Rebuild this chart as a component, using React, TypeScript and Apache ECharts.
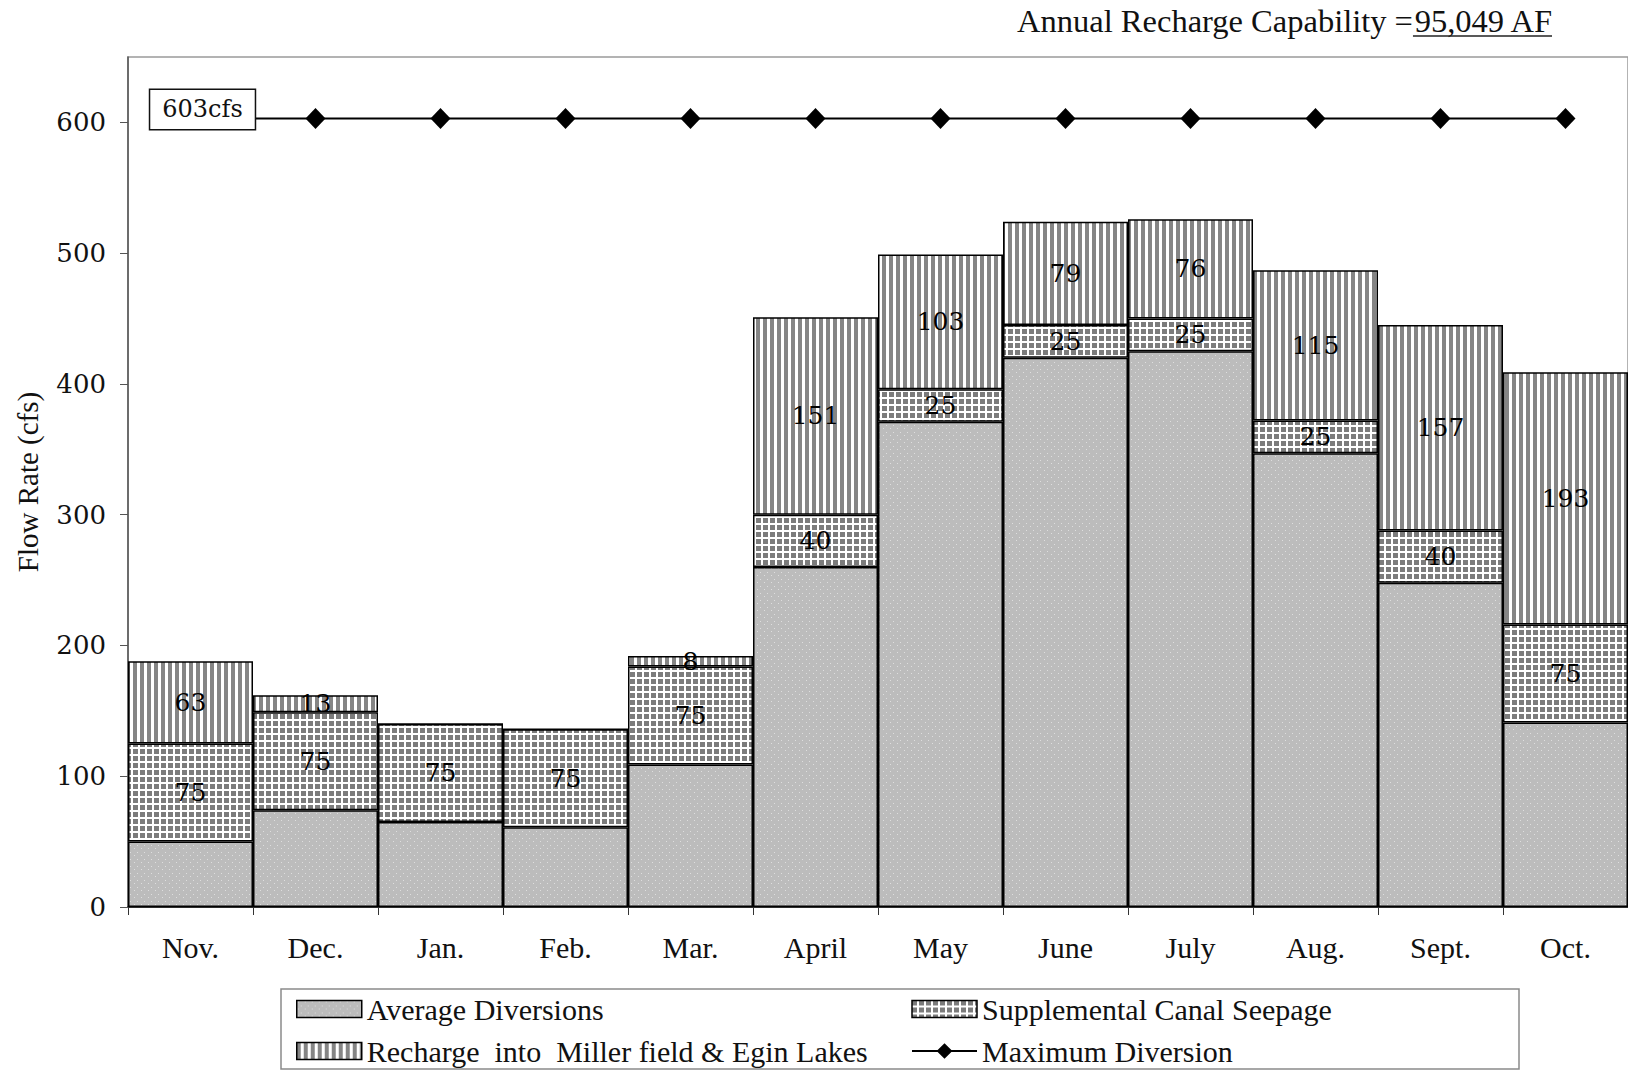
import React, { useEffect, useRef } from "react";
import * as echarts from "echarts";

const months = ["Nov.", "Dec.", "Jan.", "Feb.", "Mar.", "April", "May", "June", "July", "Aug.", "Sept.", "Oct."];
const averageDiversions = [50, 74, 65, 61, 109, 260, 371, 420, 425, 347, 248, 141];
const supplementalSeepage = [75, 75, 75, 75, 75, 40, 25, 25, 25, 25, 40, 75];
const rechargeMiller = [63, 13, 0, 0, 8, 151, 103, 79, 76, 115, 157, 193];
const maximumDiversion = [603, 603, 603, 603, 603, 603, 603, 603, 603, 603, 603, 603];
const yTicks = { min: 0, max: 650, interval: 100 };
const seriesNames = [
  "Average Diversions",
  "Supplemental Canal Seepage",
  "Recharge  into  Miller field & Egin Lakes",
  "Maximum Diversion",
];
const maxLabel = "603cfs";
const titleLeft = "Annual Recharge Capability =";
const titleRight = "95,049 AF";

function makePattern(kind: string) {
  const c = document.createElement("canvas");
  const s = 7;
  c.width = s;
  c.height = s;
  const g = c.getContext("2d")!;
  if (kind === "dots") {
    g.fillStyle = "#bcbcbc";
    g.fillRect(0, 0, s, s);
    g.fillStyle = "#dedede";
    g.fillRect(1, 1, 1, 1);
    g.fillRect(4, 5, 1, 1);
  } else if (kind === "grid") {
    g.fillStyle = "#ffffff";
    g.fillRect(0, 0, s, s);
    g.fillStyle = "#7c7c7c";
    g.fillRect(0, 0, 5, 5);
  } else {
    g.fillStyle = "#ffffff";
    g.fillRect(0, 0, s, s);
    g.fillStyle = "#858585";
    g.fillRect(0, 0, 4, s);
  }
  return { image: c, repeat: "repeat", imageWidth: s, imageHeight: s } as any;
}

function measure(text: string, font: string) {
  const c = document.createElement("canvas");
  const g = c.getContext("2d")!;
  g.font = font;
  return g.measureText(text).width;
}

export default function App() {
  const ref = useRef<HTMLDivElement>(null);
  useEffect(() => {
    document.body.style.margin = "0";
    const chart = echarts.init(ref.current!, null, { renderer: "svg" });
    const serif = "Liberation Serif";
    const wide = "DejaVu Serif";
    const titleFont = `32.5px "${serif}"`;
    const wRight = measure(titleRight, titleFont);
    const titleEnd = 1552;

    const segLabel = {
      show: true,
      position: "inside",
      color: "#000",
      fontFamily: wide,
      fontSize: 25,
      textBorderWidth: 0,
      formatter: (p: any) => (p.value > 0 ? String(p.value) : ""),
    };
    const barBase = {
      type: "bar",
      stack: "total",
      barCategoryGap: "0%",
      z: 2,
    };
    const legendText = { fontFamily: serif, fontSize: 30, lineHeight: 30, color: "#111" };

    chart.setOption({
      animation: false,
      backgroundColor: "#fff",
      grid: {
        left: 128,
        right: -5,
        top: 57,
        bottom: 169,
        show: true,
        borderColor: "#9a9a9a",
        borderWidth: 1.5,
        backgroundColor: "transparent",
      },
      legend: [
        {
          orient: "vertical",
          left: 291,
          top: 989,
          itemWidth: 65,
          itemHeight: 17,
          itemGap: 12,
          data: [
            { name: seriesNames[0], icon: "rect" },
            { name: seriesNames[2], icon: "rect" },
          ],
          textStyle: legendText,
          itemStyle: { borderColor: "#000", borderWidth: 1.5 },
        },
        {
          orient: "vertical",
          left: 906,
          top: 989,
          itemWidth: 65,
          itemHeight: 17,
          itemGap: 12,
          data: [{ name: seriesNames[1], icon: "rect" }, seriesNames[3]],
          textStyle: legendText,
          itemStyle: { borderColor: "#000", borderWidth: 1.5 },
        },
      ],
      xAxis: {
        type: "category",
        data: months,
        boundaryGap: true,
        axisLine: { lineStyle: { color: "#000", width: 1.5 } },
        axisTick: { show: true, length: 8, lineStyle: { color: "#333", width: 1 } },
        axisLabel: { fontFamily: serif, fontSize: 30, color: "#111", margin: 25 },
        splitLine: { show: false },
      },
      yAxis: {
        type: "value",
        min: yTicks.min,
        max: yTicks.max,
        interval: yTicks.interval,
        name: "Flow Rate (cfs)",
        nameLocation: "middle",
        nameGap: 86,
        nameTextStyle: { fontFamily: serif, fontSize: 29, color: "#111" },
        axisLine: { show: true, lineStyle: { color: "#555", width: 1.5 } },
        axisTick: { show: true, length: 8, lineStyle: { color: "#555", width: 1 } },
        axisLabel: { fontFamily: wide, fontSize: 26, color: "#111", margin: 22, showMaxLabel: false },
        splitLine: { show: false },
      },
      series: [
        {
          ...barBase,
          name: seriesNames[0],
          data: averageDiversions,
          itemStyle: { color: makePattern("dots"), borderColor: "#000", borderWidth: 1.5 },
          label: { show: false },
        },
        {
          ...barBase,
          name: seriesNames[1],
          data: supplementalSeepage,
          itemStyle: { color: makePattern("grid"), borderColor: "#000", borderWidth: 1.5 },
          label: segLabel,
        },
        {
          ...barBase,
          name: seriesNames[2],
          data: rechargeMiller,
          itemStyle: { color: makePattern("stripes"), borderColor: "#000", borderWidth: 1.5 },
          label: segLabel,
        },
        {
          type: "line",
          name: seriesNames[3],
          z: 5,
          symbol: "diamond",
          symbolSize: [20, 21],
          itemStyle: { color: "#000" },
          lineStyle: { color: "#000", width: 2 },
          data: maximumDiversion.map((v, i) =>
            i === 0
              ? {
                  value: v,
                  label: {
                    show: true,
                    position: "inside",
                    formatter: maxLabel,
                    offset: [12, -9],
                    fontFamily: wide,
                    fontSize: 24,
                    lineHeight: 25,
                    color: "#111",
                    backgroundColor: "#fff",
                    borderColor: "#111",
                    borderWidth: 1.5,
                    padding: [7, 12, 7, 12],
                  },
                }
              : v
          ),
        },
      ],
      graphic: [
        {
          type: "rect",
          shape: { x: 281, y: 989, width: 1238, height: 80 },
          style: { fill: "none", stroke: "#8a8a8a", lineWidth: 1.5 },
          z: 0,
        },
        {
          type: "text",
          x: titleEnd - wRight,
          y: 21,
          style: {
            text: titleLeft,
            font: titleFont,
            fill: "#111",
            textAlign: "right",
            textVerticalAlign: "middle",
          },
        },
        {
          type: "text",
          x: titleEnd,
          y: 21,
          style: {
            text: titleRight,
            font: titleFont,
            fill: "#111",
            textAlign: "right",
            textVerticalAlign: "middle",
          },
        },
        {
          type: "line",
          shape: { x1: titleEnd - wRight, y1: 36, x2: titleEnd, y2: 36 },
          style: { stroke: "#222", lineWidth: 1.5 },
        },
      ],
    });
    return () => chart.dispose();
  }, []);
  return <div ref={ref} style={{ width: 1628, height: 1076 }} />;
}
